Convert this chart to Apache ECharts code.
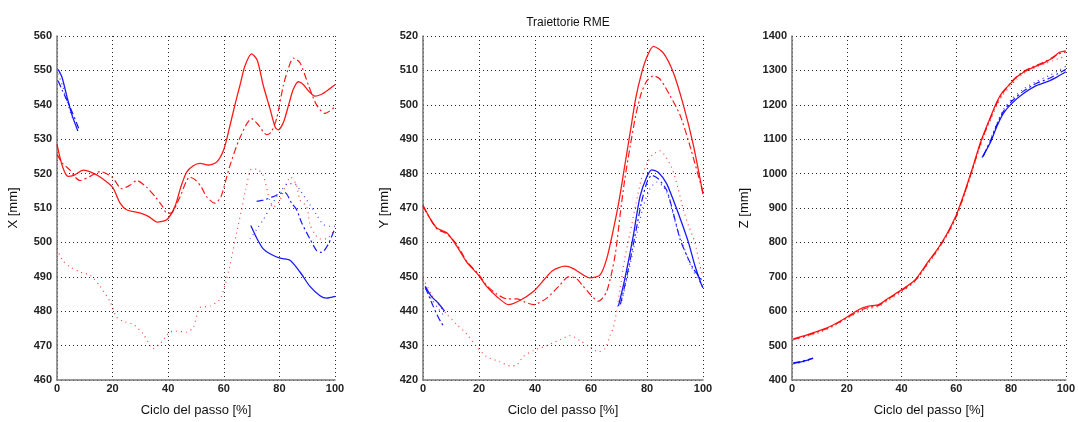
<!DOCTYPE html>
<html>
<head>
<meta charset="utf-8">
<script src="https://cdn.jsdelivr.net/npm/echarts@6/dist/echarts.min.js"></script>
<style>
  html, body { margin: 0; padding: 0; background: #fff; }
  #chart { width: 1078px; height: 422px; }
</style>
</head>
<body>
<div id="chart"></div>
<script>
// [ciclo %, valore mm]
const xRedSolid = [[0,528.5],[2,522],[4,519.2],[6,519.5],[9.5,521],[12,520.5],[15.5,519],[20,516],[22.7,511.4],[25,509.5],[30,508.5],[33,507.5],[36,505.9],[39.5,506.6],[42.4,510.4],[44.5,516],[46.6,520.4],[49,522.3],[51.4,523],[54.4,522.5],[57.5,523.4],[60,527],[62,533.2],[64,540],[65.8,545.6],[67.6,551.3],[70,554.8],[72,553],[74.2,545.6],[76.6,538.9],[78.5,533.5],[79.6,532.7],[81.5,535],[83.5,540.5],[85,544.5],[86.8,546.7],[88.5,546],[90.5,544],[92.8,542.5],[95,543],[97.5,544.3],[100,545.8]]
const xRedDash = [[0,525.6],[2,523],[4.7,521],[6.5,519],[8.3,518],[11.9,519.2],[15.5,520.6],[19.8,519],[23.3,515.6],[26,516.5],[28.7,518],[32.3,516],[35.3,513.3],[38,510.4],[39.5,508.5],[41,508.5],[44,512.8],[47.8,519],[50,518],[52,516],[53.8,513.3],[56.8,511.4],[59,513.3],[62,521.8],[65.8,530.4],[70,536],[72.4,534.2],[75.4,531.3],[77,532],[79,536],[81.4,545.6],[83,550],[85,553.6],[87.4,552.2],[90.5,545.6],[93.4,539.9],[96.4,537.5],[100,539.4]]
const xRedDot = [[0,498.1],[2,494.8],[4.7,492.9],[8.3,491.4],[11.9,490.5],[15.5,487.2],[19,482.9],[21.5,478.2],[24,477],[27.4,476.2],[31,473.4],[34.6,469.1],[37,470.5],[40.6,473.9],[43,474.2],[46.6,473.9],[49,475.3],[51.4,481],[55,481.5],[58.6,483.4],[60.4,487.6],[62.2,493.3],[64.6,502.8],[66.4,509.5],[67.9,515.4],[70,521.3],[71.8,521.3],[74.2,519.4],[76.6,511.9],[78,510.4],[80,512],[82,516],[84,519],[86,517],[87.4,512.3],[89.8,510.4],[91,505.2],[92.8,502.4],[94.6,501],[97,501],[98.2,501.9],[100,503.8]]
const xBlueSolidA = [[0.4,550.3],[1.8,548],[3.6,542.3],[5.4,537],[7.5,532.4]]
const xBlueDashA = [[0.4,547],[2,544],[3.6,541.3],[5.4,538],[7.8,533.2]]
const xBlueDotA = [[0.4,549],[2,545.5],[3.6,541],[5.4,536.5],[7.6,533.5]]
const xBlueSolidB = [[69.7,504.9],[72,501],[74.2,498.1],[76.6,496.7],[80.2,495.4],[83.8,494.8],[87.4,491.4],[91,487.2],[94.6,484.5],[97,483.8],[100,484.3]]
const xBlueDashB = [[71.8,511.9],[74.2,512.3],[77.8,513.3],[80.2,514.2],[82,514.5],[84.4,511.4],[86.2,509.5],[88,505.7],[91,501],[93.4,497.6],[95.2,497.1],[97.6,499.5],[100,504.2]]
const xBlueDotB = [[69.4,501],[72,504],[74.2,506.6],[76.6,510],[79,513.3],[81,515.5],[83.2,517.1],[85.6,517],[87.4,515.2],[91,510.9],[93.4,508],[95.8,505.2],[98.2,504.7],[100,504.7]]

const yRedSolid = [[0,470.8],[2.5,467],[4.9,464.2],[8.5,462.8],[12,459],[15.6,454.3],[19.8,450.5],[22.7,447.2],[26.3,444.3],[30.5,441.9],[34.6,443.1],[39.4,445.7],[43.6,449.5],[46.5,451.9],[50.7,453.1],[53.7,452.4],[57.3,450.5],[59.6,449.7],[63.2,450.5],[65.6,455.2],[68,463.8],[70,472],[72,482],[74,492],[76,502],[78,509],[80,514],[82.3,517],[85.8,515.1],[89.4,509.4],[93,499.9],[96.5,488.5],[100,474]]
const yRedDash = [[0,470.5],[4.9,464],[8.5,462.5],[12,459.5],[15.6,454.5],[19.8,450.8],[22.7,447.5],[26.3,445],[30,443.6],[33.5,443.6],[36,442.8],[39.4,441.9],[44.2,443.8],[48.9,447.6],[51.9,450],[54.5,449.7],[57,447.5],[59.6,445],[62.6,442.9],[65.6,445.7],[68.6,456.2],[70.4,468],[72,478],[74,488],[76,497],[78,503.5],[80,507],[82.3,508.4],[84.6,507.5],[88.2,502.7],[91.8,497],[95,489],[100,474.5]]
const yRedDot = [[0,449.5],[3,445],[6,441.5],[8.5,439.1],[12,436.2],[15.6,433.4],[19.2,429.6],[22.7,426.8],[27.5,425.3],[31,424.1],[33.4,424.3],[35.8,426.8],[39.4,428.6],[44.2,430],[48.9,431.7],[52.5,432.9],[56,431.5],[59.6,429.6],[62.6,428.2],[65,429.1],[66.8,432.9],[68,435.3],[69.2,440],[70.4,446.7],[72,455],[74,463],[76,471],[78,478.5],[80,483],[82,485.5],[84.6,486.6],[88.8,481.8],[91,476],[93,469.5],[95,464.5],[97.1,460],[98.9,453.3],[100,450]]
const yBlueSolidA = [[0.8,447.2],[3,444.3],[5.4,442.4],[7.7,440]]
const yBlueDashA = [[0.8,447],[3.6,441.5],[5,439],[6.5,436.7],[7.7,435.3]]
const yBlueDotA = [[0.8,446.5],[3,443.5],[5.4,440.8],[7.7,438.5]]
const yBlueSolidB = [[69.8,441.5],[72.1,449.5],[75.1,461.9],[77.5,473.3],[79.9,479],[81.7,481.1],[84,480.4],[87,477.1],[89.4,472.3],[92.4,465.7],[94.8,460],[97.1,453.3],[99.5,447.6],[100,446.8]]
const yBlueDashB = [[70.5,442],[72.5,449],[75.5,461],[78,471.5],[80,477.5],[81.7,479.5],[84,478.5],[87,475.2],[89.4,468.5],[91.8,461],[94.2,456.2],[96.5,452.4],[100,448.6]]
const yBlueDotB = [[71,443],[73,450],[76,461],[78.5,470],[81,475.5],[83.5,477.5],[86,476],[88,472.5],[90,466],[93,459],[96,452.5],[100,447]]

const zRedSolid = [[0.5,519.7],[5,530],[10,543.4],[15,560],[19.7,581],[24.5,605],[28,614.6],[31.7,619.4],[35.3,638.4],[40,662],[44.9,690.6],[49.6,742.7],[53.2,781],[56.8,828.2],[59.8,875.8],[61.6,913.7],[63,945],[65.8,1013.4],[68.8,1089.5],[71.8,1151],[74.8,1208.3],[77,1238],[79.6,1260],[82,1280],[84.4,1293.7],[87,1305],[89.2,1312.5],[92,1322],[95.2,1336],[97.5,1352],[100,1357]]
const zRedDash = [[0.5,518],[5,528],[10,541],[15,558],[19.7,579],[24.5,601],[28,611],[31.7,617],[35.3,636],[40,660],[44.9,688],[49.6,740],[53.2,779],[56.8,825],[59.8,872],[61.6,910],[63,942],[65.8,1010],[68.8,1086],[71.8,1148],[74.8,1204],[77,1234],[79.6,1262],[82,1282],[84.4,1296],[87,1307],[89.2,1314],[92,1324],[95.2,1338],[97.5,1348],[100,1354]]
const zRedDot = [[0.5,516],[5,526],[10,538],[15,556],[19.7,577],[24.5,598],[28,607],[31.7,614],[35.3,632],[40,656],[44.9,686],[49.6,736],[53.2,776],[56.8,822],[59.8,868],[61.6,905],[63,938],[65.8,1005],[68.8,1080],[71.8,1142],[74.8,1198],[77,1228],[79.6,1254],[82,1274],[84.4,1290],[87,1301],[89.2,1310],[92,1318],[95.2,1328],[97.5,1335],[100,1341]]
const zBlueSolidA = [[0.5,448.4],[3,452],[5,456],[7.7,462.7]]
const zBlueDashA = [[0.5,450],[3,453.5],[5,457.5],[7.7,464]]
const zBlueDotA = [[0.5,447],[3,450.5],[5,454.5],[7.7,461]]
const zBlueSolidB = [[69.4,1046.7],[72.4,1089.5],[74.8,1137],[77.2,1175],[80.2,1203.4],[84.4,1232],[89.2,1255.6],[94,1269.8],[97,1282],[100,1296]]
const zBlueDashB = [[69.8,1050],[72.4,1094],[74.8,1142],[77.2,1181],[80.2,1210],[84.4,1239],[89.2,1262],[94,1277],[97,1290],[100,1303]]
const zBlueDotB = [[70.2,1054],[72.4,1098],[74.8,1146],[77.2,1186],[80.2,1216],[84.4,1245],[89.2,1268],[94,1285],[97,1298],[100,1312]]

const yRanges = [
  { name: 'X [mm]', min: 460, max: 560, interval: 10, gap: 37 },
  { name: 'Y [mm]', min: 420, max: 520, interval: 10, gap: 32 },
  { name: 'Z [mm]', min: 400, max: 1400, interval: 100, gap: 41 },
]
const grids = [
  { left: 57, top: 36, width: 278, height: 351 },
  { left: 423, top: 36, width: 280, height: 351 },
  { left: 792, top: 36, width: 278, height: 351 },
]

const RED = '#ff0000'
const BLUE = '#0000ff'
const SOLID = 'solid'
const DASHDOT = [7, 3, 2, 3]
const DOTTED = [1, 4]

function line(idx, data, color, type) {
  return {
    type: 'line',
    xAxisIndex: idx,
    yAxisIndex: idx,
    data: data,
    smooth: 0.25,
    symbol: 'none',
    silent: true,
    lineStyle: {
      color: color,
      width: type === SOLID ? 1.3 : 1.2,
      type: type,
      opacity: type === DOTTED ? 0.75 : 0.9,
    },
  }
}

const labelFont = { color: '#222', fontSize: 11, fontWeight: 'bold', fontFamily: 'Liberation Sans' }
const nameFont = { color: '#111', fontSize: 13, fontFamily: 'Liberation Sans' }
const splitDots = { show: true, lineStyle: { color: '#000', width: 1, type: [1, 3], opacity: 0.85 } }

const chart = echarts.init(document.getElementById('chart'), null, { renderer: 'canvas' })
chart.setOption({
  animation: false,
  backgroundColor: '#fff',
  title: {
    text: 'Traiettorie RME',
    left: 563,
    top: 12,
    textAlign: 'center',
    textStyle: { fontSize: 12, fontWeight: 'normal', color: '#111', fontFamily: 'Liberation Sans' },
  },
  grid: grids,
  xAxis: grids.map((g, i) => ({
    type: 'value',
    gridIndex: i,
    min: 0,
    max: 100,
    interval: 20,
    name: 'Ciclo del passo [%]',
    nameLocation: 'middle',
    nameGap: 24,
    nameTextStyle: nameFont,
    axisLine: { show: true, onZero: false, lineStyle: { color: '#777', width: 1.5 } },
    axisTick: { show: false },
    axisLabel: Object.assign({ margin: 3 }, labelFont),
    splitLine: splitDots,
  })),
  yAxis: yRanges.map((r, i) => ({
    type: 'value',
    gridIndex: i,
    min: r.min,
    max: r.max,
    interval: r.interval,
    name: r.name,
    nameLocation: 'middle',
    nameGap: r.gap,
    nameTextStyle: nameFont,
    axisLine: { show: true, onZero: false, lineStyle: { color: '#777', width: 1.5 } },
    axisTick: { show: false },
    axisLabel: Object.assign({ margin: 5, formatter: (v) => String(v) }, labelFont),
    splitLine: splitDots,
  })),
  series: [
    line(0, xRedSolid, RED, SOLID), line(0, xRedDash, RED, DASHDOT), line(0, xRedDot, RED, DOTTED),
    line(0, xBlueSolidA, BLUE, SOLID), line(0, xBlueDashA, BLUE, DASHDOT), line(0, xBlueDotA, BLUE, DOTTED),
    line(0, xBlueSolidB, BLUE, SOLID), line(0, xBlueDashB, BLUE, DASHDOT), line(0, xBlueDotB, BLUE, DOTTED),
    line(1, yRedSolid, RED, SOLID), line(1, yRedDash, RED, DASHDOT), line(1, yRedDot, RED, DOTTED),
    line(1, yBlueSolidA, BLUE, SOLID), line(1, yBlueDashA, BLUE, DASHDOT), line(1, yBlueDotA, BLUE, DOTTED),
    line(1, yBlueSolidB, BLUE, SOLID), line(1, yBlueDashB, BLUE, DASHDOT), line(1, yBlueDotB, BLUE, DOTTED),
    line(2, zRedSolid, RED, SOLID), line(2, zRedDash, RED, DASHDOT), line(2, zRedDot, RED, DOTTED),
    line(2, zBlueSolidA, BLUE, SOLID), line(2, zBlueDashA, BLUE, DASHDOT), line(2, zBlueDotA, BLUE, DOTTED),
    line(2, zBlueSolidB, BLUE, SOLID), line(2, zBlueDashB, BLUE, DASHDOT), line(2, zBlueDotB, BLUE, DOTTED),
  ],
})
</script>
</body>
</html>
